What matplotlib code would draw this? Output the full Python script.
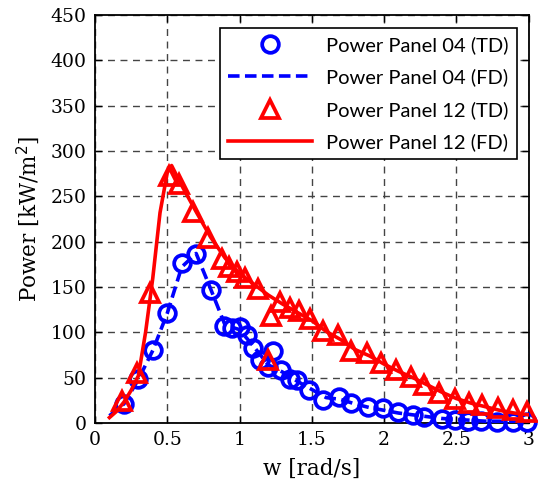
import matplotlib
matplotlib.use("Agg")
import matplotlib.pyplot as plt
import numpy as np

# ---- data ----
w_td04 = [0.2, 0.3, 0.4, 0.5, 0.6, 0.7, 0.8, 0.89, 0.95, 1.0, 1.05, 1.09, 1.14, 1.2, 1.23,
          1.29, 1.35, 1.4, 1.48, 1.58, 1.69, 1.77, 1.89, 1.99, 2.1, 2.2, 2.28, 2.4, 2.49,
          2.58, 2.67, 2.78, 2.89, 2.99]
p_td04 = [21, 48, 80, 121, 176, 186, 147, 107, 105, 106, 97, 83, 70, 62, 79,
          58, 49, 47, 36, 25, 29, 22, 18, 16, 12, 9, 7, 4, 3,
          2, 2, 1, 1, 1]

w_fd04 = [0.1, 0.2, 0.3, 0.4, 0.5, 0.6, 0.7, 0.8, 0.9, 1.0, 1.1, 1.2, 1.3, 1.4, 1.5, 1.6,
          1.7, 1.8, 1.9, 2.0, 2.1, 2.2, 2.3, 2.4, 2.5, 2.6, 2.7, 2.8, 2.9, 3.0]
p_fd04 = [8, 21, 48, 80, 121, 172, 187, 148, 108, 103, 84, 64, 56, 46, 37, 28,
          26, 21, 17, 14, 11, 9, 7, 5, 4, 3, 2, 2, 1, 1]

w_td12 = [0.19, 0.29, 0.38, 0.51, 0.58, 0.68, 0.78, 0.88, 0.93, 0.98, 1.04, 1.13, 1.2, 1.22,
          1.28, 1.35, 1.41, 1.49, 1.58, 1.68, 1.77, 1.88, 1.98, 2.08, 2.19, 2.28, 2.38,
          2.49, 2.59, 2.68, 2.79, 2.89, 2.99]
p_td12 = [24, 55, 143, 272, 264, 233, 204, 181, 172, 166, 160, 148, 69, 118,
          133, 127, 123, 115, 101, 97, 79, 77, 66, 58, 51, 42, 33,
          27, 22, 20, 16, 14, 12]

w_fd12 = [0.1, 0.15, 0.2, 0.25, 0.3, 0.35, 0.4, 0.45, 0.5, 0.53, 0.6, 0.7, 0.8, 0.9, 1.0,
          1.1, 1.2, 1.3, 1.4, 1.5, 1.6, 1.7, 1.8, 1.9, 2.0, 2.1, 2.2, 2.3, 2.4, 2.5, 2.6,
          2.7, 2.8, 2.9, 3.0]
p_fd12 = [6, 13, 23, 36, 52, 100, 160, 232, 276, 284, 262, 233, 205, 182, 165,
          153, 141, 131, 122, 113, 101, 92, 81, 74, 65, 57, 50, 42, 34, 27, 22,
          18, 14, 11, 9]

labels = ["Power Panel 04 (TD)", "Power Panel 04 (FD)", "Power Panel 12 (TD)", "Power Panel 12 (FD)"]
xticks = [0, 0.5, 1, 1.5, 2, 2.5, 3]
xticklabels = ["0", "0.5", "1", "1.5", "2", "2.5", "3"]
yticks = [0, 50, 100, 150, 200, 250, 300, 350, 400, 450]

# ---- plot ----
fig = plt.figure(figsize=(5.38, 4.9), dpi=100)
ax = fig.add_axes([95/538, 1 - 423/490, (528.5 - 95)/538, (423 - 15)/490])

ax.plot(w_td04, p_td04, linestyle="none", marker="o", markersize=12, markerfacecolor="none",
        markeredgecolor="#0000ff", markeredgewidth=2.7, label=labels[0], clip_on=False, zorder=3)
ax.plot(w_fd04, p_fd04, linestyle=(0, (3.2, 1.5)), color="#0000ff", linewidth=2.6,
        label=labels[1], zorder=4)
ax.plot(w_td12, p_td12, linestyle="none", marker="^", markersize=13.5, markerfacecolor="none",
        markeredgecolor="#ff0000", markeredgewidth=2.7, label=labels[2], clip_on=False, zorder=5)
ax.plot(w_fd12, p_fd12, linestyle="-", color="#ff0000", linewidth=2.6, label=labels[3], zorder=6)

ax.set_xlim(0, 3)
ax.set_ylim(0, 450)
ax.set_xticks(xticks)
ax.set_xticklabels(xticklabels)
ax.set_yticks(yticks)
ax.grid(True, linestyle=(0, (5, 4)), color="#444444", linewidth=1.0)
ax.set_axisbelow(True)
ax.tick_params(direction="in", top=True, right=True, length=5, width=1, labelsize=13.5, pad=6)
for lab in ax.get_xticklabels() + ax.get_yticklabels():
    lab.set_family("DejaVu Serif")
for sp in ax.spines.values():
    sp.set_linewidth(1.3)

ax.set_xlabel("w [rad/s]", family="DejaVu Serif", fontsize=15.5, labelpad=6)
ax.set_ylabel("Power [kW/m$^2$]", family="DejaVu Serif", fontsize=15.5, labelpad=6)

leg = ax.legend(loc="upper right", prop={"family": "Lato", "size": 14.5}, frameon=True,
                fancybox=False, edgecolor="black", framealpha=1, handlelength=4.2,
                borderpad=0.4, labelspacing=0.72, handletextpad=0.7, borderaxespad=0,
                bbox_to_anchor=(1 - 11.5/433.5, 1 - 13/408))
leg.get_frame().set_linewidth(1.2)

fig.savefig("out.png", dpi=100)
